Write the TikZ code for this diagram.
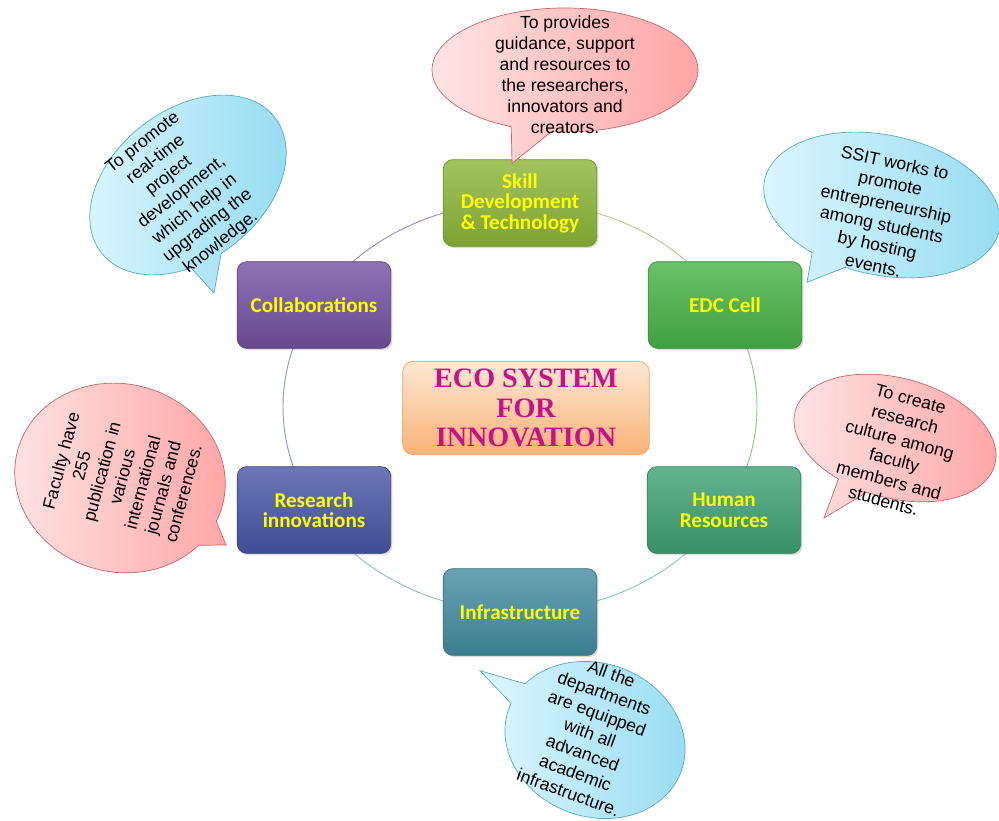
\documentclass[tikz,border=0pt]{standalone}
\usepackage{fontspec}
\setmainfont{Liberation Sans}
\newfontfamily\boxfont{Carlito}
\newfontfamily\corefont{Liberation Serif}
\usetikzlibrary{shapes.callouts,shadows,calc}

\begin{document}
\begin{tikzpicture}[
        x=0.03cm, y=-0.03cm,
        ring/.style={line width=0.8pt},
        unit/.style={rectangle, rounded corners=8pt, minimum width=4.6cm, minimum height=2.6cm,
            inner sep=2pt, align=center, text=unittext, draw=#1!80!black, line width=0.6pt,
            top color=#1!80!white, bottom color=#1!90!black,
            font=\boxfont\bfseries\fontsize{18}{17.5}\selectfont,
            drop shadow={opacity=0.3, shadow xshift=1.5pt, shadow yshift=-1.5pt}},
        core/.style={rectangle, rounded corners=9pt, minimum width=7.4cm, minimum height=2.8cm,
            align=center, text=coretext, draw=coreedge, line width=0.6pt,
            top color=corelight, bottom color=coredark,
            font=\corefont\bfseries\fontsize{24}{25}\selectfont},
        pinknote/.style={ellipse callout, draw=pinkedge, left color=pinklight, right color=pinkdark,
            line width=0.6pt, inner sep=0pt, callout pointer arc=18},
        bluenote/.style={ellipse callout, draw=blueedge, left color=bluelight, right color=bluedark,
            line width=0.6pt, inner sep=0pt, callout pointer arc=18},
        notetext/.style={align=center, inner sep=0pt, font=\fontsize{15}{18}\selectfont}
    ]

        \definecolor{skillgreen}{RGB}{140, 180, 55}
        \definecolor{edcgreen}{RGB}{70, 178, 70}
        \definecolor{hrgreen}{RGB}{60, 160, 115}
        \definecolor{infrateal}{RGB}{65, 140, 160}
        \definecolor{researchblue}{RGB}{70, 85, 165}
        \definecolor{collabpurple}{RGB}{115, 80, 160}
        \definecolor{unittext}{RGB}{255, 255, 0}
        \definecolor{corelight}{RGB}{253, 232, 212}
        \definecolor{coredark}{RGB}{250, 178, 118}
        \definecolor{coreedge}{RGB}{245, 165, 105}
        \definecolor{coretext}{RGB}{200, 15, 140}
        \definecolor{pinklight}{RGB}{255, 228, 228}
        \definecolor{pinkdark}{RGB}{255, 165, 165}
        \definecolor{pinkedge}{RGB}{205, 100, 105}
        \definecolor{bluelight}{RGB}{220, 246, 255}
        \definecolor{bluedark}{RGB}{150, 220, 242}
        \definecolor{blueedge}{RGB}{85, 170, 200}
        \definecolor{ringblue}{RGB}{140, 155, 205}
        \definecolor{ringlilac}{RGB}{160, 140, 200}
        \definecolor{ringolive}{RGB}{180, 205, 140}
        \definecolor{ringgreen}{RGB}{130, 205, 130}
        \definecolor{ringteal}{RGB}{130, 205, 180}
        \definecolor{ringaqua}{RGB}{140, 195, 205}

        \useasboundingbox (0,0) rectangle (999,821);

        \coordinate (hub) at (520,407);
        \draw[ring, ringblue] ($(hub)+(150:237 and 205)$) arc[start angle=150, end angle=210, x radius=237, y radius=205];
        \draw[ring, ringlilac] ($(hub)+(210:237 and 205)$) arc[start angle=210, end angle=270, x radius=237, y radius=205];
        \draw[ring, ringolive] ($(hub)+(270:237 and 205)$) arc[start angle=270, end angle=330, x radius=237, y radius=205];
        \draw[ring, ringgreen] ($(hub)+(330:237 and 205)$) arc[start angle=330, end angle=390, x radius=237, y radius=205];
        \draw[ring, ringteal] ($(hub)+(30:237 and 205)$) arc[start angle=30, end angle=90, x radius=237, y radius=205];
        \draw[ring, ringaqua] ($(hub)+(90:237 and 205)$) arc[start angle=90, end angle=150, x radius=237, y radius=205];

        \node[core] (eco) at (526,408) {ECO SYSTEM\\FOR\\INNOVATION};

        \node[unit=skillgreen] (skill) at (520,203) {Skill\\Development\\\& Technology};
        \node[unit=edcgreen] (edc) at (725,305) {EDC Cell};
        \node[unit=hrgreen] (hr) at (724,510) {Human\\Resources};
        \node[unit=infrateal] (infra) at (520,612) {Infrastructure};
        \node[unit=researchblue] (research) at (314,510) {Research\\innovations};
        \node[unit=collabpurple] (collab) at (314,305) {Collaborations};

        \node[pinknote, minimum width=7.98cm, minimum height=3.72cm,
              callout absolute pointer={($(skill.north)+(-8,4)$)}] (skillnote) at (565,70) {};
        \node[notetext] (skilltxt) at (565,75) {To provides\\guidance, support\\and resources to\\the researchers,\\innovators and\\creators.};

        \node[bluenote, rotate=38, minimum width=6.6cm, minimum height=4.5cm,
              callout absolute pointer={($(collab.west)+(-23,-12)$)}] (collabnote) at (188,185) {};
        \node[notetext, rotate=38] (collabtxt) at (182,193) {To promote\\real-time\\project\\development,\\which help in\\upgrading the\\knowledge.};

        \node[bluenote, rotate=-12, minimum width=7.2cm, minimum height=4.2cm,
              callout absolute pointer={($(edc.north east)+(5,21)$)}] (edcnote) at (882,205) {};
        \node[notetext, rotate=-12] (edctxt) at (884,214) {SSIT works to\\promote\\entrepreneurship\\among students\\by hosting\\events.};

        \node[pinknote, rotate=-15, minimum width=6.2cm, minimum height=3.6cm,
              callout absolute pointer={($(hr.east)+(23,8)$)}] (hrnote) at (895,438) {};
        \node[notetext, rotate=-15] (hrtxt) at (897,450) {To create\\research\\culture among\\faculty\\members and\\students.};

        \node[pinknote, rotate=75, minimum width=5.64cm, minimum height=6.36cm,
              callout absolute pointer={($(research.west)+(-11,35)$)}] (researchnote) at (120,478) {};
        \node[notetext, rotate=75] (researchtxt) at (122,477) {Faculty have\\255\\publication in\\various\\international\\journals and\\conferences.};

        \node[bluenote, rotate=-20, minimum width=5.5cm, minimum height=4.6cm,
              callout absolute pointer={($(infra.south west)+(37,15)$)}] (infranote) at (595,740) {};
        \node[notetext, rotate=-20] (infratxt) at (590,733) {All the\\departments\\are equipped\\with all\\advanced\\academic\\infrastructure.};
    \end{tikzpicture}
\end{document}
